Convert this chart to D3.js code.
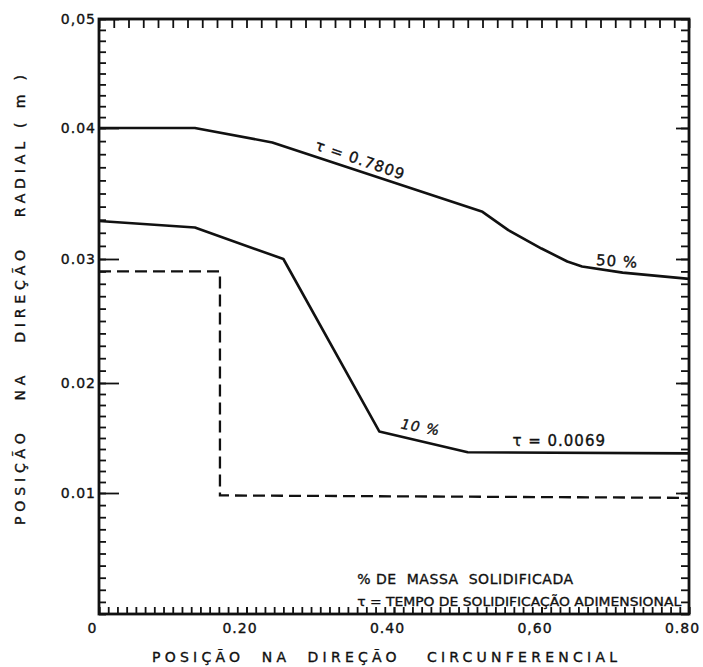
<!DOCTYPE html>
<html>
<head>
<meta charset="utf-8">
<script src="https://cdn.jsdelivr.net/npm/d3@7"></script>
<style>
  body { margin: 0; background: #fff; }
  svg { display: block; }
  text { font-family: "DejaVu Sans", sans-serif; fill: #111; stroke: #111; stroke-width: 0.35; white-space: pre; }
  .tick line { stroke: #111; stroke-width: 1.8; }
</style>
</head>
<body>
<svg id="chart" width="703" height="667"></svg>
<script>
// values
var xTickValues = [0, 0.20, 0.40, 0.60, 0.80];
var xTickLabels = ['0', '0.20', '0.40', '0,60', '0.80'];
var yTickValues = [0.01, 0.02, 0.03, 0.04, 0.05];
var yTickLabels = ['0.01', '0.02', '0.03', '0.04', '0,05'];

// 50 % solidified, tau = 0.7809
var curve50X = [0, 0.13, 0.235, 0.52, 0.555, 0.60, 0.635, 0.655, 0.71, 0.80];
var curve50Y = [0.0400, 0.0400, 0.0389, 0.0336, 0.0322, 0.0308, 0.0298, 0.0294, 0.0289, 0.0284];

// 10 % solidified, tau = 0.0069
var curve10X = [0, 0.13, 0.25, 0.38, 0.50, 0.80];
var curve10Y = [0.0329, 0.0324, 0.0300, 0.0156, 0.0137, 0.0136];

// dashed outline
var dashedX = [0, 0.164, 0.164, 0.80];
var dashedY = [0.0290, 0.0290, 0.0098, 0.0096];

var svg = d3.select('#chart');

// note: "top" is taken by window.top, hence the box* names
var boxLeft = 99, boxRight = 689, boxTop = 19, boxBottom = 614;

var x = d3.scaleLinear().domain([0, 0.8]).range([boxLeft, boxRight]);
// the scan's y axis is unevenly spaced, so map it piece by piece
var y = d3.scaleLinear()
  .domain([0, 0.01, 0.02, 0.03, 0.04, 0.05])
  .range([boxBottom, 493, 383, 259, 128, boxTop]);

var yMinor = d3.range(0, 51).map(function(i) { return i / 1000; });
var xTopTicks = d3.range(0, 41).map(function(i) { return i * 0.02; });
var xBottomTicks = d3.range(0, 65).map(function(i) { return i * 0.0125; });

var addAxis = function(axis, transform) {
  var g = svg.append('g').attr('transform', transform).call(axis);
  g.select('.domain').remove();
  return g;
};

// left
addAxis(d3.axisLeft(y).tickValues(yMinor).tickSize(-7).tickFormat(''), 'translate(' + boxLeft + ',0)');
addAxis(d3.axisLeft(y).tickValues(yTickValues).tickSize(-20).tickPadding(3)
  .tickFormat(function(d, i) { return yTickLabels[i]; }), 'translate(' + boxLeft + ',0)')
  .selectAll('text').style('font-size', '14px').attr('letter-spacing', 1);

// right
addAxis(d3.axisRight(y).tickValues(yMinor).tickSize(-8).tickFormat(''), 'translate(' + boxRight + ',0)');
addAxis(d3.axisRight(y).tickValues(yTickValues).tickSize(-13).tickFormat(''), 'translate(' + boxRight + ',0)');

// top
addAxis(d3.axisTop(x).tickValues(xTopTicks).tickSize(-9).tickFormat(''), 'translate(0,' + boxTop + ')');

// bottom
addAxis(d3.axisBottom(x).tickValues(xBottomTicks).tickSize(-7).tickFormat(''), 'translate(0,' + boxBottom + ')');
addAxis(d3.axisBottom(x).tickValues(xTickValues).tickSize(-7).tickPadding(9)
  .tickFormat(function(d, i) { return xTickLabels[i]; }), 'translate(0,' + boxBottom + ')')
  .selectAll('text').style('font-size', '14px').attr('dx', -7).attr('letter-spacing', 1);

svg.append('rect')
  .attr('x', boxLeft).attr('y', boxTop)
  .attr('width', boxRight - boxLeft).attr('height', boxBottom - boxTop)
  .attr('fill', 'none').attr('stroke', '#111').attr('stroke-width', 2.8);

var line = d3.line()
  .x(function(d) { return x(d[0]); })
  .y(function(d) { return y(d[1]); });

var zip = function(xs, ys) {
  return xs.map(function(v, i) { return [v, ys[i]]; });
};

svg.append('path')
  .datum(zip(curve50X, curve50Y))
  .attr('d', line)
  .attr('fill', 'none').attr('stroke', '#111').attr('stroke-width', 2.6)
  .attr('stroke-linejoin', 'round');

svg.append('path')
  .datum(zip(curve10X, curve10Y))
  .attr('d', line)
  .attr('fill', 'none').attr('stroke', '#111').attr('stroke-width', 2.6)
  .attr('stroke-linejoin', 'round');

svg.append('path')
  .datum(zip(dashedX, dashedY))
  .attr('d', line)
  .attr('fill', 'none').attr('stroke', '#111').attr('stroke-width', 2.3)
  .attr('stroke-dasharray', '12,6');

// curve labels
var label = function(txt, dx, dy, angle, size, italic) {
  var px = x(dx), py = y(dy);
  svg.append('text')
    .attr('x', px).attr('y', py)
    .attr('text-anchor', 'middle')
    .attr('transform', 'rotate(' + angle + ',' + px + ',' + py + ')')
    .style('font-size', size + 'px')
    .style('font-style', italic ? 'italic' : 'normal')
    .attr('letter-spacing', 1)
    .text(txt);
};

label('\u03c4 = 0.7809', 0.352, 0.0372, 19, 15);
label('50 %', 0.702, 0.0294, 4, 15);
label('10 %', 0.435, 0.01555, 10, 14, true);
label('\u03c4 = 0.0069', 0.624, 0.0143, 0, 15);

// legend notes
svg.append('text')
  .attr('x', x(0.35)).attr('y', 584)
  .attr('textLength', 216).attr('lengthAdjust', 'spacing')
  .style('font-size', '14px')
  .text('% DE  MASSA  SOLIDIFICADA');

svg.append('text')
  .attr('x', x(0.35)).attr('y', 606)
  .attr('textLength', 324).attr('lengthAdjust', 'spacingAndGlyphs')
  .style('font-size', '13px')
  .text('\u03c4 = TEMPO DE SOLIDIFICAÇÃO ADIMENSIONAL');

// axis titles
svg.append('text')
  .attr('x', 152).attr('y', 662)
  .attr('textLength', 465).attr('lengthAdjust', 'spacing')
  .style('font-size', '14px')
  .text('POSIÇÃO  NA  DIREÇÃO   CIRCUNFERENCIAL');

svg.append('text')
  .attr('transform', 'translate(25,525) rotate(-90)')
  .attr('textLength', 450).attr('lengthAdjust', 'spacing')
  .style('font-size', '14px')
  .text('POSIÇÃO   NA   DIREÇÃO   RADIAL ( m )');
</script>
</body>
</html>
